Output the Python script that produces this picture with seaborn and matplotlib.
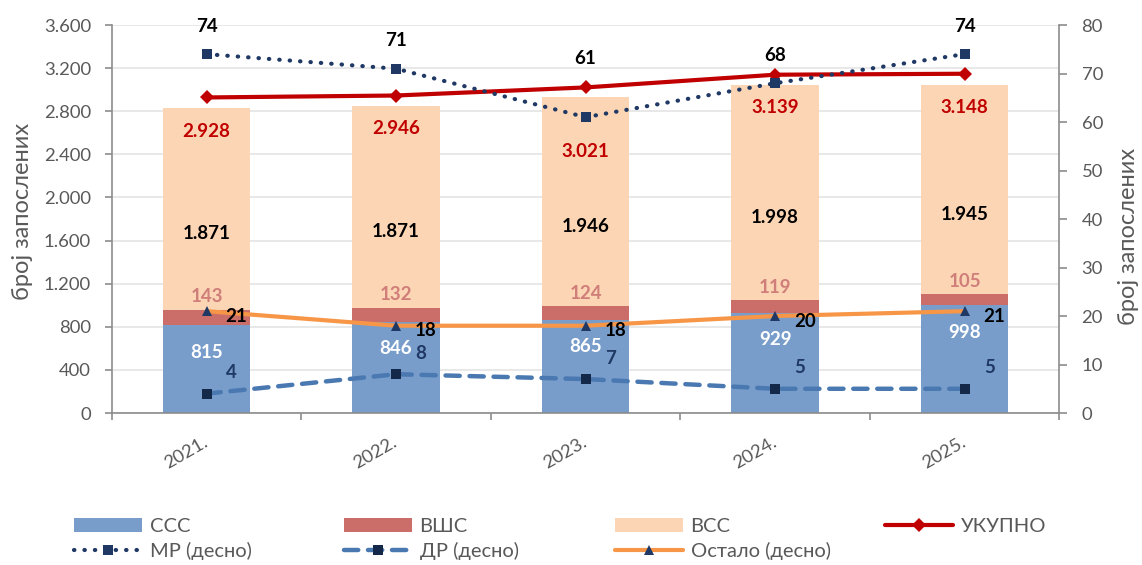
import numpy as np
import pandas as pd
import matplotlib
matplotlib.use("Agg")
import matplotlib.pyplot as plt
import seaborn as sns
from matplotlib.patches import Patch
from matplotlib.lines import Line2D
from matplotlib.ticker import FuncFormatter, MultipleLocator

# ---------------- data ----------------
years = ["2021.", "2022.", "2023.", "2024.", "2025."]
ccc = [815, 846, 865, 929, 998]          # ССС
vsh = [143, 132, 124, 119, 105]          # ВШС
vss = [1871, 1871, 1946, 1998, 1945]     # ВСС
ukupno = [2928, 2946, 3021, 3139, 3148]  # УКУПНО
mr = [74, 71, 61, 68, 74]                # МР (десно)
dr = [4, 8, 7, 5, 5]                     # ДР (десно)
ostalo = [21, 18, 18, 20, 21]            # Остало (десно)

# ---------------- style ----------------
sns.set_theme(style="white")
plt.rcParams["font.family"] = ["Lato", "DejaVu Sans"]

C_CCC = "#789DCB"
C_VSH = "#CB6D69"
C_VSS = "#FCD5B4"
C_TOT = "#C00000"
C_MR = "#1F3864"
C_DR = "#4A78B0"
C_DRM = "#14284A"
C_OST = "#F79646"
C_OSTM = "#1F3864"
C_TXT = "#595959"
C_SPINE = "#8C8C8C"
C_GRID = "#E6E6E6"

FS_TICK = 13.3
FS_LAB = 13.5
FS_LEG = 14.5
FS_AX = 17

df = pd.DataFrame({"year": years, "ccc": ccc, "vsh": vsh, "vss": vss,
                   "ukupno": ukupno, "mr": mr, "dr": dr, "ostalo": ostalo})
df["s2"] = df["ccc"] + df["vsh"]
df["s3"] = df["s2"] + df["vss"]
df["pos"] = np.arange(len(df))

fig = plt.figure(figsize=(11.42, 5.65), dpi=100)
ax = fig.add_axes([0.0979, 0.269, 0.8297, 0.6867])

W = 0.46
sns.barplot(data=df, x="year", y="ccc", color=C_CCC, width=W, saturation=1,
            errorbar=None, ax=ax, linewidth=0, zorder=2)
sns.barplot(data=df, x="year", y="vsh", bottom=df["ccc"].to_numpy(), color=C_VSH,
            width=W, saturation=1, errorbar=None, ax=ax, linewidth=0, zorder=2)
sns.barplot(data=df, x="year", y="vss", bottom=df["s2"].to_numpy(), color=C_VSS,
            width=W, saturation=1, errorbar=None, ax=ax, linewidth=0, zorder=2)

sns.lineplot(data=df, x="pos", y="ukupno", ax=ax, color=C_TOT, lw=3,
             marker="D", markersize=7.5, markeredgewidth=0, zorder=4)

ax2 = ax.twinx()
sns.lineplot(data=df, x="pos", y="mr", ax=ax2, color=C_MR, lw=3,
             linestyle=(0, (0.1, 2.4)), dash_capstyle="round",
             marker="s", markersize=7, markeredgewidth=0, zorder=4)
sns.lineplot(data=df, x="pos", y="dr", ax=ax2, color=C_DR, lw=3.2,
             linestyle=(0, (3.2, 2.2)), dash_capstyle="round",
             marker="s", markersize=7, markerfacecolor=C_DRM,
             markeredgecolor=C_DRM, markeredgewidth=0, zorder=4)
sns.lineplot(data=df, x="pos", y="ostalo", ax=ax2, color=C_OST, lw=3,
             marker="^", markersize=7.5, markerfacecolor=C_OSTM,
             markeredgecolor=C_OSTM, markeredgewidth=0, zorder=4)

# ---------------- axes ----------------
ax.set_ylim(0, 3600)
ax2.set_ylim(0, 80)
ax.set_xlim(-0.5, len(years) - 0.5)
ax.yaxis.set_major_locator(MultipleLocator(400))
ax2.yaxis.set_major_locator(MultipleLocator(10))
ax.yaxis.set_major_formatter(FuncFormatter(lambda v, p: f"{int(v):,}".replace(",", ".")))
ax.set_axisbelow(True)
ax.yaxis.grid(True, color=C_GRID, lw=1.3)
ax.xaxis.grid(False)

ax.set_xticks(np.arange(-0.5, len(years)), labels=[""] * (len(years) + 1))
ax.set_xticks(np.arange(len(years)), labels=years, minor=True)
ax.tick_params(axis="x", which="major", length=5, width=1.2, color=C_SPINE, direction="out", bottom=True)
ax.tick_params(axis="x", which="minor", length=0, pad=20, labelsize=FS_TICK, labelcolor=C_TXT, labelrotation=30)
for lbl in ax.get_xticklabels(minor=True):
    lbl.set_ha("right")
    lbl.set_va("center")
    lbl.set_rotation_mode("anchor")

ax.tick_params(axis="y", length=5, width=1.2, color=C_SPINE, direction="out", left=True,
               pad=10, labelsize=FS_TICK, labelcolor=C_TXT)
ax2.tick_params(axis="y", length=6, width=1.2, color=C_SPINE, direction="out", right=True,
                pad=10, labelsize=FS_TICK, labelcolor=C_TXT)

for a in (ax, ax2):
    a.spines["top"].set_visible(False)
ax.spines["right"].set_visible(False)
ax2.spines["left"].set_visible(False)
ax2.spines["bottom"].set_visible(False)
for s in ("left", "bottom"):
    ax.spines[s].set_color(C_SPINE)
    ax.spines[s].set_linewidth(1.2)
ax2.spines["right"].set_color(C_SPINE)
ax2.spines["right"].set_linewidth(1.2)

ax.set_xlabel("")
ax.set_ylabel("број запослених", fontsize=FS_AX, color=C_TXT)
ax2.set_ylabel("број запослених", fontsize=FS_AX, color=C_TXT)
ax.yaxis.label.set_va("center")
ax2.yaxis.label.set_va("center")
ax.yaxis.set_label_coords(-0.0947, 0.52)
ax2.yaxis.set_label_coords(1.0725, 0.455)

# ---------------- data labels ----------------
def fmt(v):
    return f"{v:,}".replace(",", ".")

tot_nudge = [0, 0, -32, 0, 0]
mr_nudge = [0, 0, 31, 0, 0]
for i in range(len(years)):
    ax.annotate(fmt(ccc[i]), (i, ccc[i]), xytext=(0, -27), textcoords="offset pixels",
                ha="center", va="center", fontsize=FS_LAB, fontweight="bold", color="white", zorder=5)
    ax.annotate(fmt(vsh[i]), (i, df["s2"][i]), xytext=(0, 13), textcoords="offset pixels",
                ha="center", va="center", fontsize=FS_LAB, fontweight="bold", color="#D07E7A", zorder=5)
    ax.annotate(fmt(vss[i]), (i, df["s2"][i] + vss[i] / 2), xytext=(0, -25), textcoords="offset pixels",
                ha="center", va="center", fontsize=FS_LAB, fontweight="bold", color="black", zorder=5)
    ax.annotate(fmt(ukupno[i]), (i, df["s3"][i]), xytext=(0, -23 + tot_nudge[i]), textcoords="offset pixels",
                ha="center", va="center", fontsize=FS_LAB, fontweight="bold", color=C_TOT, zorder=5)
    ax2.annotate(fmt(mr[i]), (i, mr[i]), xytext=(0, 28 + mr_nudge[i]), textcoords="offset pixels",
                 ha="center", va="center", fontsize=FS_LAB, fontweight="bold", color="black", zorder=5)
    ax2.annotate(fmt(dr[i]), (i, dr[i]), xytext=(25, 21), textcoords="offset pixels",
                 ha="center", va="center", fontsize=FS_LAB, fontweight="bold", color=C_MR, zorder=5)
    ax2.annotate(fmt(ostalo[i]), (i, ostalo[i]), xytext=(30, -5), textcoords="offset pixels",
                 ha="center", va="center", fontsize=FS_LAB, fontweight="bold", color="black", zorder=5)

# ---------------- legend ----------------
h_ccc = Patch(facecolor=C_CCC, edgecolor="none", label="ССС")
h_vsh = Patch(facecolor=C_VSH, edgecolor="none", label="ВШС")
h_vss = Patch(facecolor=C_VSS, edgecolor="none", label="ВСС")
h_tot = Line2D([], [], color=C_TOT, lw=3, marker="D", markersize=7.5, markeredgewidth=0, label="УКУПНО")
h_mr = Line2D([], [], color=C_MR, lw=3, linestyle=(0, (0.1, 2.4)), dash_capstyle="round",
              marker="s", markersize=7, markeredgewidth=0, label="МР (десно)")
h_dr = Line2D([], [], color=C_DR, lw=3.2, linestyle=(0, (3.2, 2.2)), dash_capstyle="round",
              marker="s", markersize=7, markerfacecolor=C_DRM, markeredgecolor=C_DRM,
              markeredgewidth=0, label="ДР (десно)")
h_ost = Line2D([], [], color=C_OST, lw=3, marker="^", markersize=7.5, markerfacecolor=C_OSTM,
               markeredgecolor=C_OSTM, markeredgewidth=0, label="Остало (десно)")

columns = [[h_ccc, h_mr], [h_vsh, h_dr], [h_vss, h_ost], [h_tot]]
col_x = [74, 344, 615, 885]
for hs, x0 in zip(columns, col_x):
    leg = fig.legend(handles=hs, loc="upper left", bbox_to_anchor=(x0 / 1142, 1 - 518 / 565),
                     frameon=False, borderpad=0, borderaxespad=0, fontsize=FS_LEG,
                     handlelength=3.4, handletextpad=0.35, labelspacing=0.35)
    for t in leg.get_texts():
        t.set_color(C_TXT)

fig.savefig("out.png", dpi=100)
